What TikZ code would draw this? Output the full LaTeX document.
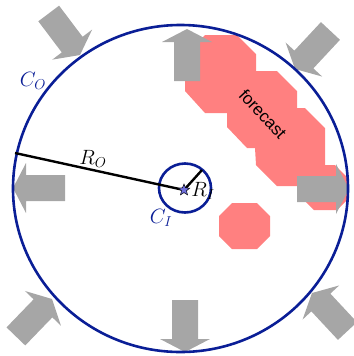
\documentclass[tikz,border=0pt]{standalone}
\usepackage{fontspec}
\newfontfamily\fcfont{Liberation Sans}
\usetikzlibrary{shapes.geometric}
\definecolor{rimB}{HTML}{0A1E96}
\definecolor{fcR}{HTML}{FF8080}
\definecolor{arrG}{HTML}{A6A6A6}
\definecolor{starB}{HTML}{6E6EDC}

\begin{document}
\begin{tikzpicture}[x=1bp, y=-1bp,
  lbl/.style={font=\fontsize{20bp}{23bp}\selectfont, inner sep=0pt},
  biglbl/.style={font=\fontsize{21bp}{24bp}\selectfont, inner sep=0pt, text=rimB},
  rim/.style={draw=rimB, line width=2.6bp}]
  \useasboundingbox (0,0) rectangle (354,356);

  % forecast cells
  \fill[fcR] (205,35) -- (237,35) -- (256,54) -- (256,71) -- (277,71)
    -- (297,91) -- (297,108) -- (305,108) -- (325,128) -- (325,165)
    -- (335,165) -- (348,178) -- (348,199) -- (337,210) -- (314,210)
    -- (300,196) -- (300,186) -- (277,186) -- (256,165) -- (255,148)
    -- (247,148) -- (227,127) -- (227,113) -- (205,113) -- (185,91)
    -- (185,55) -- cycle;
  \fill[fcR] (232,203) -- (257,203) -- (270,216) -- (270,236)
    -- (257,249) -- (232,249) -- (219,236) -- (219,216) -- cycle;
  \node[rotate=-47, font=\fcfont\fontsize{17bp}{20bp}\selectfont] (fc) at (263,114) {forecast};

  % wind arrows (tip x / tip y / direction)
  \foreach \px/\py/\ang in {
    187/29/90,
    185/352/-90,
    13/188/180,
    349/189/0,
    80/55/-53,
    295/69/-133,
    52/299/46,
    312/293/133}{
    \fill[arrG, shift={(\px,\py)}, rotate=\ang]
      (0,0) -- (-13,25) -- (-13,13) -- (-52,13) -- (-52,-13) -- (-13,-13) -- (-13,-25) -- cycle;
  }

  % outer and inner circles
  \draw[rim] (180.5,188.5) ellipse [x radius=167.5bp, y radius=163.5bp];
  \draw[rim] (185,188) ellipse [x radius=26bp, y radius=24.5bp];

  \coordinate (ctr) at (184,190);
  \coordinate (rimO) at (15,153);
  \coordinate (rimI) at (202,170);
  \draw[line width=2.4bp] (rimO) -- (ctr);
  \draw[line width=2.4bp] (ctr) -- (rimI);
  \node[star, star points=5, star point ratio=2.3, minimum size=12bp, inner sep=0pt,
    fill=starB, draw=black, line width=0.5pt] (ctrstar) at (ctr) {};

  \node[biglbl] (cO) at (33,81) {$C_O$};
  \node[lbl] (rO) at (93,159) {$R_O$};
  \node[biglbl] (cI) at (161,218) {$C_I$};
  \node[lbl] (rI) at (203,191) {$R_I$};
\end{tikzpicture}
\end{document}
